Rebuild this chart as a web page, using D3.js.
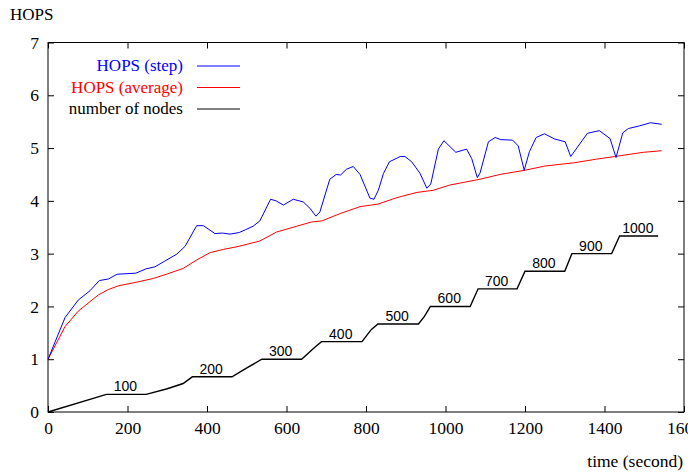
<!DOCTYPE html>
<html>
<head>
<meta charset="utf-8">
<script src="https://cdn.jsdelivr.net/npm/d3@7"></script>
<style>
body { margin: 0; background: #fff; }
</style>
</head>
<body>
<div id="chart"></div>
<script>
// HOPS (step): time (s) and hop count
var stepTimes = [0, 43, 76, 106, 129, 152, 174, 221, 246, 269, 294, 324, 345, 374, 391, 420, 439, 458, 481,
                 496, 516, 533, 560, 574, 592, 617, 642, 659, 674, 684, 709, 725, 736, 751, 768, 785, 810, 820,
                 831, 844, 859, 886, 898, 915, 936, 953, 963, 982, 996, 1026, 1053, 1066, 1080, 1087, 1108,
                 1125, 1139, 1169, 1183, 1198, 1211, 1228, 1249, 1275, 1301, 1315, 1357, 1387, 1414, 1429,
                 1446, 1460, 1488, 1516, 1544];
var stepHops = [1.0, 1.79, 2.12, 2.30, 2.49, 2.52, 2.61, 2.63, 2.71, 2.75, 2.86, 2.99, 3.14, 3.53, 3.53, 3.38, 3.39, 3.37, 3.40,
                3.45, 3.52, 3.62, 4.03, 4.00, 3.92, 4.03, 3.98, 3.86, 3.71, 3.79, 4.41, 4.50, 4.49, 4.60, 4.65, 4.50, 4.05, 4.03,
                4.20, 4.52, 4.74, 4.84, 4.84, 4.74, 4.52, 4.24, 4.32, 4.98, 5.14, 4.92, 4.98, 4.80, 4.44, 4.53, 5.12,
                5.20, 5.16, 5.15, 5.04, 4.58, 4.93, 5.20, 5.27, 5.17, 5.12, 4.84, 5.28, 5.33, 5.18, 4.82,
                5.29, 5.37, 5.42, 5.48, 5.45];

// HOPS (average)
var avgTimes = [0, 43, 76, 127, 152, 177, 223, 265, 298, 340, 374, 408, 441, 481, 533, 575, 626, 663, 689,
                735, 785, 831, 877, 928, 969, 1011, 1087, 1137, 1200, 1250, 1322, 1380, 1426, 1498, 1544];
var avgHops = [1.0, 1.62, 1.91, 2.22, 2.32, 2.39, 2.46, 2.53, 2.61, 2.72, 2.88, 3.02, 3.08, 3.14, 3.24, 3.41, 3.52, 3.60, 3.62,
               3.76, 3.89, 3.94, 4.06, 4.16, 4.20, 4.30, 4.41, 4.50, 4.58, 4.66, 4.72, 4.79, 4.84, 4.92, 4.95];

// number of nodes (drawn as nodes / 300)
var nodeTimes = [0, 147, 247, 300, 340, 363, 463, 497, 538, 638, 672, 688, 790, 813, 830, 932, 947, 962,
                 1062, 1082, 1180, 1200, 1300, 1318, 1418, 1438, 1535];
var nodeCounts = [0, 100, 100, 132, 162, 200, 200, 246, 300, 300, 369, 400, 400, 468, 500, 500, 543, 600,
                  600, 700, 700, 800, 800, 900, 900, 1000, 1000];
var nodeLabels = [100, 200, 300, 400, 500, 600, 700, 800, 900, 1000];
var nodeScale = 300;

var xTicks = [0, 200, 400, 600, 800, 1000, 1200, 1400, 1600];
var yTicks = [0, 1, 2, 3, 4, 5, 6, 7];

var legendNames = ["HOPS (step)", "HOPS (average)", "number of nodes"];
var legendColors = ["#0000ff", "#ff0000", "#000000"];

//Width and height
var w = 688;
var h = 473;
var plotLeft = 48, plotRight = 684, plotTop = 42.5, plotBottom = 412;
var serif = "'Liberation Serif', 'Times New Roman', serif";
var sans = "'Liberation Sans', Arial, sans-serif";

var x = d3.scaleLinear().domain([0, 1600]).range([plotLeft, plotRight]);
var y = d3.scaleLinear().domain([0, 7]).range([plotBottom, plotTop]);

var svg = d3.select("#chart")
            .append("svg")
            .attr("width", w)
            .attr("height", h);

//Axes with inward ticks on all four sides
function styleAxis(g) {
    g.select(".domain").remove();
    g.selectAll("line").attr("stroke", "#000");
    g.selectAll("text").attr("font-family", serif).attr("font-size", 17.5).attr("fill", "#000");
}

svg.append("g")
   .attr("transform", "translate(0," + plotBottom + ")")
   .call(d3.axisBottom(x).tickValues(xTicks).tickFormat(d3.format("d"))
           .tickSizeInner(-6).tickSizeOuter(0).tickPadding(10))
   .call(styleAxis);

svg.append("g")
   .attr("transform", "translate(0," + plotTop + ")")
   .call(d3.axisTop(x).tickValues(xTicks).tickSizeInner(-6).tickSizeOuter(0).tickFormat(""))
   .call(styleAxis);

svg.append("g")
   .attr("transform", "translate(" + plotLeft + ",0)")
   .call(d3.axisLeft(y).tickValues(yTicks).tickFormat(d3.format("d"))
           .tickSizeInner(-6).tickSizeOuter(0).tickPadding(9))
   .call(styleAxis);

svg.append("g")
   .attr("transform", "translate(" + plotRight + ",0)")
   .call(d3.axisRight(y).tickValues(yTicks).tickSizeInner(-6).tickSizeOuter(0).tickFormat(""))
   .call(styleAxis);

//Plot border
svg.append("rect")
   .attr("x", plotLeft)
   .attr("y", plotTop)
   .attr("width", plotRight - plotLeft)
   .attr("height", plotBottom - plotTop)
   .attr("fill", "none")
   .attr("stroke", "#000")
   .attr("stroke-width", 1);

//Series lines
var line = d3.line()
             .x(function(d) { return x(d[0]); })
             .y(function(d) { return y(d[1]); });

var nodePts = nodeTimes.map(function(t, i) { return [t, nodeCounts[i] / nodeScale]; });

svg.append("path")
   .datum(nodePts)
   .attr("d", line)
   .attr("fill", "none")
   .attr("stroke", "#000")
   .attr("stroke-width", 1.4);

svg.append("path")
   .datum(avgTimes.map(function(t, i) { return [t, avgHops[i]]; }))
   .attr("d", line)
   .attr("fill", "none")
   .attr("stroke", "#ff0000")
   .attr("stroke-width", 1);

svg.append("path")
   .datum(stepTimes.map(function(t, i) { return [t, stepHops[i]]; }))
   .attr("d", line)
   .attr("fill", "none")
   .attr("stroke", "#0000ff")
   .attr("stroke-width", 1);

//Node count labels above each flat step
nodeLabels.forEach(function(n) {
    var ts = nodeTimes.filter(function(t, i) { return nodeCounts[i] === n; });
    var mid = (d3.min(ts) + d3.max(ts)) / 2;
    svg.append("text")
       .attr("x", x(mid) - 1)
       .attr("y", y(n / nodeScale) - 3)
       .attr("text-anchor", "middle")
       .attr("font-family", sans)
       .attr("font-size", 14)
       .attr("fill", "#000")
       .text(n);
});

//Legend
legendNames.forEach(function(name, i) {
    var ly = 66 + i * 21.5;
    svg.append("text")
       .attr("x", 183)
       .attr("y", ly + 5)
       .attr("text-anchor", "end")
       .attr("font-family", serif)
       .attr("font-size", 17)
       .attr("fill", legendColors[i])
       .text(name);
    svg.append("line")
       .attr("x1", 197)
       .attr("x2", 240)
       .attr("y1", ly)
       .attr("y2", ly)
       .attr("stroke", legendColors[i])
       .attr("stroke-width", 1);
});

//Axis titles
svg.append("text")
   .attr("x", 10)
   .attr("y", 20)
   .attr("font-family", serif)
   .attr("font-size", 17)
   .text("HOPS");

svg.append("text")
   .attr("x", 683)
   .attr("y", 467)
   .attr("text-anchor", "end")
   .attr("font-family", serif)
   .attr("font-size", 17.5)
   .text("time (second)");
</script>
</body>
</html>
